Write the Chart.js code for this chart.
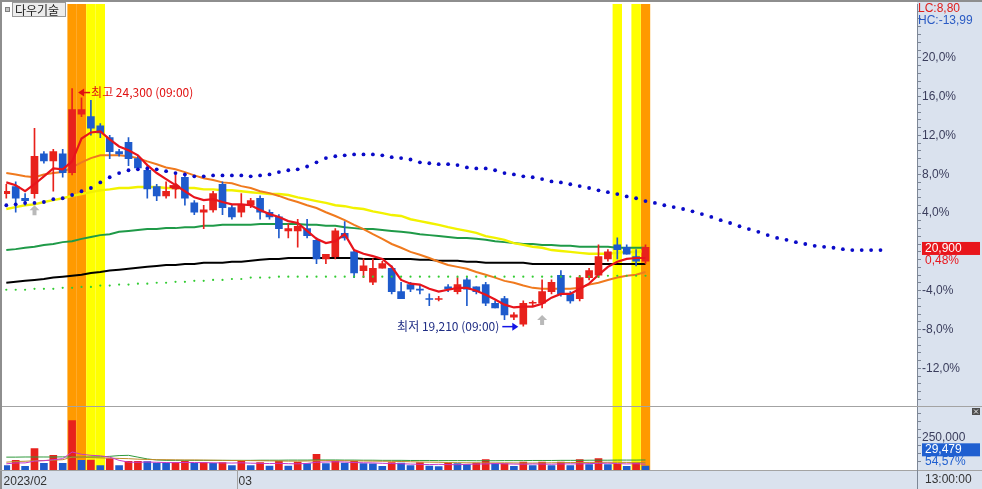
<!DOCTYPE html>
<html><head><meta charset="utf-8">
<style>html,body{margin:0;padding:0;background:#fff;}canvas{display:block;}</style>
<script src="https://cdn.jsdelivr.net/npm/chart.js@4.4.0/dist/chart.umd.min.js"></script>
</head><body><canvas id="c" width="982" height="489"></canvas>
<script>
// ---------------- DATA ----------------
const stockName = '다우기술';
const prevClose = 20800;
const highTime = '09:00';
const lowTime = '09:00';
const lastTime = '13:00:00';
const monthLabels = ['2023/02', '03'];
const monthStarts = [0, 25];
const pctTicks = [20, 16, 12, 8, 4, -4, -8, -12];
const volTicks = [250000];

const opens  = [22050,22200,21950,22050,22900,22750,22900,22500,23750,23700,23500,23250,22950,23150,22800,22550,22200,22000,22150,22400,21850,21650,21700,22250,21750,21650,21800,21950,21650,21550,21250,21250,21300,21050,20650,20700,21200,20800,20400,20150,20450,20450,19950,20100,20000,19800,19780,20050,19950,20200,20050,20100,19700,19800,19400,19250,19700,19700,19950,20300,19900,19800,20250,20300,20650,20950,20900,20700,20600];
const highs  = [22250,22300,22050,23450,22950,23000,23000,24300,24100,24050,23550,23300,23000,23250,22850,22650,22250,22300,22450,22450,21900,21800,22100,22300,21800,22050,21950,22000,21700,21600,21400,21500,21500,21100,20750,21300,21450,20850,20650,20650,20600,20500,20150,20150,20100,19900,19850,20100,20250,20250,20050,20150,19750,19850,19500,19750,19750,20200,20200,20400,19950,20300,20450,20950,20850,21100,20950,20850,20950];
const lows   = [21950,21650,21800,21950,22700,22100,22400,22450,23700,23300,23250,22800,22850,22650,22550,21950,21900,21950,21950,21800,21600,21300,21650,21600,21500,21550,21750,21500,21500,21100,21100,20900,21100,20550,20550,20650,21050,20250,20250,20100,20450,19900,19800,19950,19900,19650,19750,19950,19900,19650,19900,19650,19600,19350,19350,19210,19650,19600,19900,19850,19700,19750,20200,20250,20600,20650,20750,20500,20550];
const closes = [22100,21950,21900,22850,22750,22950,22500,23850,23850,23450,23350,22950,22900,22800,22600,22150,22000,22100,22200,21950,21650,21700,22050,21750,21550,21800,21900,21650,21550,21300,21300,21350,21150,20650,20750,21250,21100,20350,20500,20450,20550,19950,19800,20000,19980,19780,19800,20000,20100,20000,19950,19700,19600,19450,19450,19700,19720,19950,20150,19900,19750,20250,20400,20700,20800,20850,20750,20600,20900];
const volumes = [35000,75000,28000,167000,51000,114000,51000,384000,75000,78000,35000,88000,35000,67000,68000,66000,53000,52000,57000,67000,51000,57000,51000,57000,35000,67000,35000,57000,30000,69000,30000,61000,49000,122000,49000,67000,53000,67000,49000,48000,28000,57000,53000,35000,57000,30000,27000,53000,49000,43000,53000,80000,49000,50000,28000,61000,35000,61000,35000,61000,35000,80000,43000,88000,43000,44000,28000,54020,29479];

const maRed    = [22290,22230,22100,22250,22420,22590,22570,22740,23230,23360,23380,23210,23060,22980,22870,22660,22490,22360,22230,22100,21970,21910,21930,21870,21820,21820,21800,21700,21610,21550,21460,21420,21250,21080,20990,21030,21180,20840,20760,20710,20650,20480,20200,20120,20100,20010,19950,19990,20030,20030,19970,19880,19780,19670,19610,19630,19630,19690,19820,19900,19900,20010,20120,20310,20480,20590,20650,20670,20670];
const maOrange = [22490,22460,22420,22400,22460,22490,22510,22610,22720,22810,22870,22870,22870,22850,22810,22740,22680,22610,22570,22510,22440,22380,22340,22290,22270,22210,22170,22100,22060,22000,21930,21870,21800,21740,21650,21570,21480,21380,21290,21180,21080,20970,20890,20800,20740,20670,20590,20520,20480,20440,20370,20310,20250,20180,20140,20080,20030,20010,20010,20010,20010,20030,20100,20140,20200,20250,20290,20310,20370];
const maYellow = [21720,21760,21800,21820,21870,21910,21950,22000,22040,22080,22120,22140,22170,22170,22190,22190,22190,22170,22170,22170,22170,22140,22140,22120,22120,22100,22080,22060,22040,22040,22020,21970,21930,21890,21850,21800,21780,21740,21720,21670,21630,21590,21570,21500,21460,21420,21380,21330,21290,21250,21210,21140,21100,21060,20990,20950,20910,20890,20840,20820,20800,20780,20760,20760,20760,20780,20800,20800,20820];
const maGreen  = [20840,20860,20890,20910,20950,20970,21010,21030,21080,21120,21160,21180,21230,21250,21270,21290,21290,21310,21310,21330,21330,21360,21360,21380,21380,21380,21380,21400,21400,21400,21400,21400,21380,21380,21360,21360,21330,21310,21290,21290,21270,21250,21230,21210,21180,21160,21140,21120,21100,21100,21080,21060,21030,21010,20990,20970,20970,20950,20950,20930,20930,20910,20910,20910,20910,20890,20890,20890,20890];
const maBlack  = [20140,20160,20180,20200,20220,20250,20270,20290,20310,20350,20370,20400,20420,20440,20460,20480,20500,20520,20520,20540,20540,20570,20570,20570,20590,20590,20610,20630,20650,20650,20670,20670,20670,20670,20670,20670,20670,20670,20650,20650,20650,20650,20650,20650,20630,20630,20610,20610,20610,20590,20590,20570,20570,20570,20570,20570,20540,20540,20540,20540,20540,20540,20540,20540,20540,20540,20540,20540,20540];
const bandLow  = [19990,19990,19990,20010,20010,20010,20030,20030,20050,20050,20080,20080,20100,20100,20120,20120,20140,20140,20160,20160,20180,20180,20200,20200,20220,20220,20250,20250,20250,20270,20270,20270,20270,20270,20270,20270,20270,20270,20270,20270,20270,20270,20270,20270,20270,20270,20270,20270,20270,20270,20270,20270,20270,20270,20270,20270,20270,20270,20270,20270,20270,20270,20270,20270,20290,20290,20290,20290,20290];
const leadLine = [21800,21820,21850,21850,21870,21930,21950,22020,22100,22170,22290,22400,22490,22550,22570,22590,22570,22530,22490,22460,22420,22420,22440,22440,22440,22440,22420,22440,22460,22510,22550,22570,22630,22720,22810,22850,22870,22890,22890,22890,22870,22830,22810,22780,22720,22700,22680,22680,22660,22610,22590,22590,22550,22490,22460,22420,22400,22360,22310,22290,22250,22210,22170,22120,22080,22040,21990,21950,21890,21850,21800,21760,21720,21670,21610,21550,21480,21420,21350,21290,21230,21160,21100,21060,21010,20970,20930,20910,20890,20860,20840,20840,20840,20840];

const volMaMagenta = [48000,55000,55000,69000,72000,80000,88000,140000,122000,114000,110000,100000,75000,61000,60000,62000,60000,58000,57000,59000,58000,57000,56000,55000,54000,56000,53000,52000,50000,52000,49000,48000,51000,60000,62000,64000,62000,58000,56000,55000,52000,50000,49000,46000,44000,42000,44000,42000,41000,44000,46000,47000,50000,48000,46000,45000,47000,46000,45000,47000,48000,47000,50000,51000,53000,50000,47000,49000,45000];
const volMaOlive   = [61000,66000,68000,72000,74000,76000,80000,100000,98000,96000,94000,92000,90000,88000,84000,82000,80000,80000,79000,78000,78000,77000,76000,75000,74000,74000,73000,72000,71000,70000,69000,69000,70000,72000,73000,73000,72000,71000,70000,69000,68000,67000,66000,64000,62000,61000,60000,58000,57000,56000,56000,55000,55000,56000,55000,54000,54000,55000,56000,57000,58000,58000,59000,59000,60000,60000,59000,59000,58000];
const volMaGreen   = [100000,100000,101000,101000,101000,101000,102000,100000,100000,101000,102000,106000,112000,114000,100000,86000,78000,75000,75000,75000,75000,75000,75000,75000,75000,75000,75000,76000,76000,76000,77000,77000,77000,78000,78000,78000,77000,77000,76000,76000,75000,75000,75000,74000,74000,74000,73000,73000,73000,73000,72000,72000,72000,73000,73000,73000,74000,74000,74000,75000,75000,75000,76000,76000,76000,77000,77000,77000,78000];

const orangeMarks = [7, 8, 68];
const yellowMarks = [9, 10, 65, 67];
const upSignals = [3, 57];
const rightSignals = [18];

// ---------------- STYLE / LAYOUT ----------------
const RED = '#e8211c', BLUE = '#1e5bcc', PANEL = '#dae2ee';
const AXIS = '#7d8796', LABEL = '#3a3d5c';
const LATIN = '"Liberation Sans", Arial, sans-serif';
const HANGUL = '"Noto Sans CJK KR", sans-serif';
const FIRST_X = 6.3, SLOT = 9.4;   // pixel centre of first candle, pixels per candle
Chart.defaults.font.family = LATIN;
Chart.defaults.font.size = 12;

const fmtInt = v => Math.round(v).toString().replace(/\B(?=(\d{3})+(?!\d))/g, ',');
const fmtDec = (v, d) => v.toFixed(d).replace('.', ',');
const pts = arr => arr.map((v, i) => ({x: i, y: v}));
const isUp = i => closes[i] >= opens[i];
const volUp = i => i > 0 && volumes[i] >= volumes[i - 1];
const noPad = s => { s.paddingTop = 0; s.paddingBottom = 0; s.paddingLeft = 0; s.paddingRight = 0; };

const lineDs = (data, color, width, order) => ({
  type: 'line', data: pts(data), yAxisID: 'y', borderColor: color, borderWidth: width,
  pointRadius: 0, tension: 0, fill: false, order
});
const volLineDs = (data, color, order) => ({
  type: 'line', data: pts(data), yAxisID: 'yv', borderColor: color, borderWidth: 1,
  pointRadius: 0, tension: 0, fill: false, order
});

const deco = {
  id: 'deco',
  afterLayout(chart) {
    const x = chart.scales.x;
    x.min = (x.left - FIRST_X) / SLOT;
    x.max = (x.right - FIRST_X) / SLOT;
    x.configure();
  },
  beforeDraw(chart) {
    const {ctx, chartArea: a} = chart;
    ctx.save();
    ctx.fillStyle = PANEL;
    ctx.fillRect(a.right, 0, chart.width - a.right, chart.height);
    ctx.fillRect(0, a.bottom, chart.width, chart.height - a.bottom);
    ctx.restore();
  },
  beforeDatasetsDraw(chart) {
    const {ctx, chartArea: a, scales: {x, yv}} = chart;
    ctx.save();
    const band = (i, color) => {
      const x0 = x.getPixelForValue(i - 0.5), x1 = x.getPixelForValue(i + 0.5);
      ctx.fillStyle = color;
      ctx.fillRect(x0, a.top, x1 - x0, a.bottom - a.top);
    };
    orangeMarks.forEach(i => band(i, '#ff9a00'));
    yellowMarks.forEach(i => band(i, '#ffff00'));
    const sy = Math.round(yv.top) + 0.5;
    ctx.strokeStyle = '#a3a3a3'; ctx.lineWidth = 1;
    ctx.beginPath(); ctx.moveTo(0, sy); ctx.lineTo(chart.width, sy); ctx.stroke();
    ctx.restore();
  },
  afterDraw(chart) {
    const {ctx, chartArea: a, scales: {x, y, yv}} = chart;
    const W = chart.width, H = chart.height;
    const line = (x0, y0, x1, y1) => { ctx.beginPath(); ctx.moveTo(x0, y0); ctx.lineTo(x1, y1); ctx.stroke(); };
    ctx.save();
    // signals
    upSignals.forEach(i => {
      const cx = x.getPixelForValue(i), t = y.getPixelForValue(lows[i]) + 7;
      ctx.fillStyle = '#b9b9b9';
      ctx.beginPath(); ctx.moveTo(cx, t); ctx.lineTo(cx + 5, t + 5); ctx.lineTo(cx + 2, t + 5);
      ctx.lineTo(cx + 2, t + 10); ctx.lineTo(cx - 2, t + 10); ctx.lineTo(cx - 2, t + 5);
      ctx.lineTo(cx - 5, t + 5); ctx.closePath(); ctx.fill();
    });
    rightSignals.forEach(i => {
      const cx = x.getPixelForValue(i), cy = y.getPixelForValue(closes[i]);
      ctx.fillStyle = '#e01818';
      ctx.fillRect(cx - 6, cy - 1.5, 6, 3);
      ctx.beginPath(); ctx.moveTo(cx, cy - 4); ctx.lineTo(cx + 5, cy); ctx.lineTo(cx, cy + 4); ctx.closePath(); ctx.fill();
    });
    // high / low annotations
    ctx.textBaseline = 'middle';
    ctx.font = '12px ' + HANGUL;
    const maxH = Math.max(...highs), iH = highs.indexOf(maxH);
    const hx = x.getPixelForValue(iH) + 6, hy = y.getPixelForValue(maxH) + 4;
    ctx.fillStyle = '#e01010'; ctx.strokeStyle = '#e01010'; ctx.lineWidth = 1.5;
    ctx.beginPath(); ctx.moveTo(hx, hy); ctx.lineTo(hx + 6, hy - 4); ctx.lineTo(hx + 6, hy + 4); ctx.closePath(); ctx.fill();
    line(hx + 5, hy, hx + 12, hy);
    ctx.textAlign = 'left';
    ctx.fillText('최고 ' + fmtInt(maxH) + ' (' + highTime + ')', hx + 13, hy);
    const minL = Math.min(...lows), iL = lows.indexOf(minL);
    const lx = x.getPixelForValue(iL) - 5, ly = y.getPixelForValue(minL) + 0.5;
    ctx.fillStyle = '#1414e6'; ctx.strokeStyle = '#1414e6';
    ctx.beginPath(); ctx.moveTo(lx, ly); ctx.lineTo(lx - 6, ly - 4); ctx.lineTo(lx - 6, ly + 4); ctx.closePath(); ctx.fill();
    line(lx - 16, ly, lx - 5, ly);
    ctx.fillStyle = '#1f2d84'; ctx.textAlign = 'right';
    ctx.fillText('최저 ' + fmtInt(minL) + ' (' + lowTime + ')', lx - 19, ly);

    // frame & strip
    ctx.fillStyle = '#8e8e8e';
    ctx.fillRect(0, 0, W, 2); ctx.fillRect(0, 0, 2, H);
    ctx.strokeStyle = '#a3a3a3'; ctx.lineWidth = 1;
    line(0, a.bottom + 0.5, W, a.bottom + 0.5);
    monthStarts.slice(1).forEach(i => {
      const px = Math.round(x.getPixelForValue(i - 0.5)) + 0.5;
      line(px, a.bottom, px, H);
    });
    ctx.strokeStyle = AXIS;
    line(a.right + 0.5, a.bottom, a.right + 0.5, H);

    // title
    ctx.fillStyle = '#c4c4c4'; ctx.fillRect(5, 7, 5, 5);
    ctx.strokeStyle = '#808080'; ctx.strokeRect(5.5, 7.5, 4, 4);
    ctx.fillStyle = '#ececec'; ctx.fillRect(12, 2, 54, 15);
    ctx.strokeStyle = '#9a9a9a'; ctx.strokeRect(12.5, 2.5, 53, 14);
    ctx.fillStyle = '#222'; ctx.textAlign = 'left'; ctx.font = '12px ' + HANGUL;
    ctx.fillText(stockName, 15, 10);

    // right panel texts
    const last = closes[closes.length - 1];
    const lc = (last / minL - 1) * 100, hc = (last / maxH - 1) * 100;
    ctx.font = '12px ' + LATIN;
    ctx.fillStyle = '#e0201c'; ctx.fillText('LC:' + fmtDec(lc, 2), a.right + 1, 8.5);
    ctx.fillStyle = '#2a5bc4'; ctx.fillText('HC:' + fmtDec(hc, 2), a.right + 1, 21);
    const cy = y.getPixelForValue(last) + 1.2;
    ctx.fillStyle = '#e8161c'; ctx.fillRect(a.right + 5, cy - 6.5, W - a.right - 7, 13);
    ctx.fillStyle = '#fff'; ctx.fillText(fmtInt(last), a.right + 8, cy);
    ctx.fillStyle = '#e8161c'; ctx.fillText(fmtDec((last / prevClose - 1) * 100, 2) + '%', a.right + 8, cy + 12.5);
    const lastVol = volumes[volumes.length - 1], prevVol = volumes[volumes.length - 2];
    const vy = yv.getPixelForValue(volTicks[0]) + 12;
    ctx.fillStyle = '#1f5fd0'; ctx.fillRect(a.right + 5, vy - 6.5, W - a.right - 7, 13);
    ctx.fillStyle = '#fff'; ctx.fillText(fmtInt(lastVol), a.right + 8, vy);
    ctx.fillStyle = '#1f5fd0'; ctx.fillText(fmtDec(lastVol / prevVol * 100, 2) + '%', a.right + 8, vy + 12);
    // close box
    ctx.fillStyle = '#4e4e4e'; ctx.fillRect(972, 408, 8, 7);
    ctx.strokeStyle = '#e8e8e8'; ctx.lineWidth = 1;
    line(974, 409.5, 978, 413.5); line(978, 409.5, 974, 413.5);
    // time
    ctx.fillStyle = '#333'; ctx.fillText(lastTime, a.right + 8, a.bottom + 10);
    ctx.restore();
  }
};

new Chart(document.getElementById('c'), {
  type: 'bar',
  data: {
    datasets: [
      {type: 'line', data: pts(leadLine), yAxisID: 'y', showLine: false, pointRadius: 1.9,
       pointBorderWidth: 0, pointBackgroundColor: '#0a0ac8', order: 0},
      {type: 'line', data: pts(bandLow), yAxisID: 'y', showLine: false, pointRadius: 1.1,
       pointBorderWidth: 0, pointBackgroundColor: '#33cc33', order: 1},
      lineDs(maRed, '#e8141c', 2.2, 2),
      {type: 'bar', data: opens.map((o, i) => ({x: i, y: [o, closes[i]]})), yAxisID: 'y',
       barThickness: 7, minBarLength: 1, grouped: false, borderWidth: 0,
       backgroundColor: c => isUp(c.dataIndex) ? RED : BLUE, order: 3},
      {type: 'bar', data: lows.map((l, i) => ({x: i, y: [l, highs[i]]})), yAxisID: 'y',
       barThickness: 1, minBarLength: 1, grouped: false, borderWidth: 0,
       backgroundColor: c => isUp(c.dataIndex) ? RED : BLUE, order: 4},
      lineDs(maOrange, '#f07a1e', 2, 5),
      lineDs(maYellow, '#f2f200', 2.4, 6),
      lineDs(maGreen, '#1f9a48', 2, 7),
      lineDs(maBlack, '#000000', 2, 8),
      volLineDs(volMaMagenta, '#c838c8', 9),
      volLineDs(volMaOlive, '#c08a28', 9),
      volLineDs(volMaGreen, '#2f9a3c', 9),
      {type: 'bar', data: pts(volumes), yAxisID: 'yv', barThickness: 7, grouped: false, borderWidth: 0,
       backgroundColor: c => volUp(c.dataIndex) ? RED : BLUE, order: 10}
    ]
  },
  options: {
    responsive: false, animation: false, devicePixelRatio: 1,
    layout: {padding: {left: 2, top: 2, right: 0, bottom: 0}},
    plugins: {legend: {display: false}, tooltip: {enabled: false}},
    scales: {
      x: {
        type: 'linear', position: 'bottom', min: -0.4574, max: 96.88, offset: false,
        afterFit(s) { s.height = 19; noPad(s); },
        afterBuildTicks(s) { s.ticks = monthStarts.map(i => ({value: i - 0.5})); },
        ticks: {autoSkip: false, maxRotation: 0, align: 'start', labelOffset: 2, padding: 4,
                color: '#333', font: {size: 12, family: LATIN},
                callback: (v, i) => monthLabels[i]},
        grid: {drawOnChartArea: false, drawTicks: false, offset: false},
        border: {display: false}
      },
      y: {
        type: 'linear', position: 'right', stack: 'panes', stackWeight: 404,
        min: 17493, max: 26112,
        afterFit(s) { s.width = 65; noPad(s); },
        afterBuildTicks(s) {
          const t = [];
          for (let k = -19; k <= 31; k++) t.push({value: prevClose * (1 + k * 0.008)});
          s.ticks = t;
        },
        ticks: {autoSkip: false, padding: 1, color: LABEL, font: {size: 12, family: LATIN},
                callback(v) {
                  const p = Math.round((v / prevClose - 1) * 1000) / 10;
                  return pctTicks.includes(p) ? fmtDec(p, 1) + '%' : '';
                }},
        grid: {drawOnChartArea: false, tickLength: 4, color: AXIS},
        border: {color: AXIS}
      },
      yv: {
        type: 'linear', position: 'right', stack: 'panes', stackWeight: 64,
        min: 0, max: 495000,
        afterFit(s) { s.width = 65; noPad(s); },
        afterBuildTicks(s) {
          const t = [];
          for (let k = 1; k <= 7; k++) t.push({value: k * 62500});
          s.ticks = t;
        },
        ticks: {autoSkip: false, padding: 1, color: LABEL, font: {size: 12, family: LATIN},
                callback: v => volTicks.includes(v) ? fmtInt(v) : ''},
        grid: {drawOnChartArea: false, tickLength: 4, color: AXIS},
        border: {color: AXIS}
      }
    }
  },
  plugins: [deco]
});
</script>
</body></html>
